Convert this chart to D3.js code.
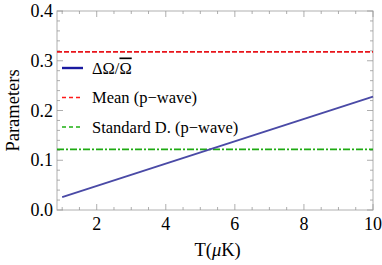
<!DOCTYPE html>
<html>
<head>
<meta charset="utf-8">
<script src="https://d3js.org/d3.v7.min.js"></script>
<style>
  body { margin: 0; background: #fff; }
  text { font-family: "Liberation Serif", "DejaVu Serif", serif; }
</style>
</head>
<body>
<svg id="chart" width="382" height="265"></svg>
<script>
// data
const temps = [1, 10];
const deltaRatio = [0.026, 0.228];
const meanP = 0.318;
const stdP = 0.122;
const xTicks = [2, 4, 6, 8, 10];
const yTicks = [0.0, 0.1, 0.2, 0.3, 0.4];
const legendLabels = ['ΔΩ/Ω', 'Mean (p\u2212wave)', 'Standard D. (p\u2212wave)'];

const svg = d3.select('#chart');
const margin = {top: 11, right: 9, bottom: 55, left: 57};
const w = 382 - margin.left - margin.right,
      h = 265 - margin.top - margin.bottom;

const x = d3.scaleLinear().domain([0.85, 10]).range([0, w]);
const y = d3.scaleLinear().domain([0, 0.4]).range([h, 0]);

const g = svg.append('g').attr('transform', `translate(${margin.left},${margin.top})`);

// frame
g.append('rect')
  .attr('width', w).attr('height', h)
  .attr('fill', 'none').attr('stroke', '#b0b0b0').attr('stroke-width', 1);

const tickCol = '#999';
const xMinor = d3.range(1, 10.01, 0.5).filter(v => !xTicks.includes(v));
const yMinor = d3.range(0, 0.401, 0.02).filter(v => !yTicks.some(t => Math.abs(t - v) < 1e-6));

const ticks = g.append('g').attr('stroke', tickCol).attr('stroke-width', 0.8);
xTicks.forEach(v => {
  ticks.append('line').attr('x1', x(v)).attr('x2', x(v)).attr('y1', h).attr('y2', h - 6);
  ticks.append('line').attr('x1', x(v)).attr('x2', x(v)).attr('y1', 0).attr('y2', 6);
});
xMinor.forEach(v => {
  ticks.append('line').attr('x1', x(v)).attr('x2', x(v)).attr('y1', h).attr('y2', h - 3);
  ticks.append('line').attr('x1', x(v)).attr('x2', x(v)).attr('y1', 0).attr('y2', 3);
});
yTicks.forEach(v => {
  ticks.append('line').attr('x1', 0).attr('x2', 6).attr('y1', y(v)).attr('y2', y(v));
  ticks.append('line').attr('x1', w).attr('x2', w - 6).attr('y1', y(v)).attr('y2', y(v));
});
yMinor.forEach(v => {
  ticks.append('line').attr('x1', 0).attr('x2', 3).attr('y1', y(v)).attr('y2', y(v));
  ticks.append('line').attr('x1', w).attr('x2', w - 3).attr('y1', y(v)).attr('y2', y(v));
});

// tick labels
g.selectAll('.xl').data(xTicks).enter().append('text')
  .attr('x', d => x(d)).attr('y', h + 20)
  .attr('text-anchor', 'middle').attr('font-size', 18).text(d => d);
g.selectAll('.yl').data(yTicks).enter().append('text')
  .attr('x', -4).attr('y', d => y(d) + 6)
  .attr('text-anchor', 'end').attr('font-size', 18).text(d => d.toFixed(1));

// axis titles
g.append('text').attr('x', x(5.5)).attr('y', h + 46)
  .attr('text-anchor', 'middle').attr('font-size', 18.5)
  .html('T(<tspan font-style="italic">μ</tspan>K)');
g.append('text')
  .attr('transform', `translate(${-38},${h / 2}) rotate(-90)`)
  .attr('text-anchor', 'middle').attr('font-size', 18.5).text('Parameters');

// lines
const line = d3.line().x(d => x(d[0])).y(d => y(d[1]));
g.append('path')
  .datum([[x.domain()[0], meanP], [10, meanP]])
  .attr('d', line).attr('fill', 'none').attr('stroke', '#e8151b')
  .attr('stroke-width', 1.7).attr('stroke-dasharray', '5,2');
g.append('path')
  .datum([[x.domain()[0], stdP], [10, stdP]])
  .attr('d', line).attr('fill', 'none').attr('stroke', '#1eaa12')
  .attr('stroke-width', 1.7).attr('stroke-dasharray', '7,2,2,2');
g.append('path')
  .datum(temps.map((t, i) => [t, deltaRatio[i]]))
  .attr('d', line).attr('fill', 'none').attr('stroke', '#4a4aa6')
  .attr('stroke-width', 1.9);

// legend
const leg = g.append('g').attr('transform', 'translate(5,57)');
const legStyles = [
  {c: '#1a1aa0', d: null, sw: 2.4},
  {c: '#ff1a1a', d: '4,3', sw: 1.4},
  {c: '#1eb012', d: '4,3', sw: 1.4}
];
legendLabels.forEach((lab, i) => {
  const yy = i * 29.5;
  leg.append('line').attr('x1', 0).attr('x2', 21).attr('y1', yy).attr('y2', yy)
    .attr('stroke', legStyles[i].c).attr('stroke-width', legStyles[i].sw)
    .attr('stroke-dasharray', legStyles[i].d);
  const t = leg.append('text').attr('x', 30).attr('y', yy + 5.5).attr('font-size', 16.5);
  if (i === 0) {
    t.append('tspan').text('ΔΩ/');
    t.append('tspan').attr('text-decoration', 'overline').text('Ω');
  } else {
    t.text(lab);
  }
});
</script>
</body>
</html>
